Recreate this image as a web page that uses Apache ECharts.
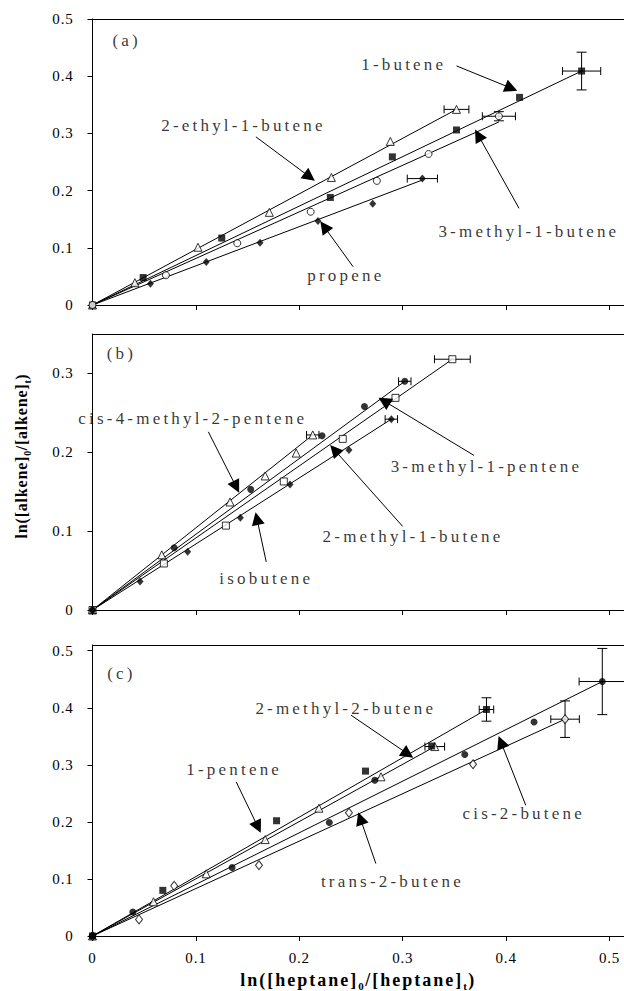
<!DOCTYPE html>
<html>
<head>
<meta charset="utf-8">
<script src="https://cdn.jsdelivr.net/npm/echarts@6/dist/echarts.min.js"></script>
<style>
html, body { margin: 0; padding: 0; background: #fff; }
#main { width: 624px; height: 991px; }
/* the figure text is widely spaced, do it per font size */
#main text[style*="17px"] { letter-spacing: 3.2px; }
#main text[style*="15px"] { letter-spacing: 0.8px; }
#main text[style*="18px"] { letter-spacing: 2px; }
#main text[style*="16px"] { letter-spacing: 0.8px; }
#main text[style*="11px"] { letter-spacing: 1.5px; }
#main text[style*="10px"] { letter-spacing: 0.5px; }
#main text { font-family: "Liberation Serif", "Times New Roman", serif !important; }
</style>
</head>
<body>
<div id="main"></div>
<script>
var FONT = 'Liberation Serif, Times New Roman, serif';

// keep layout measuring in step with the css spacing above
var spacing = { 17: 3.2, 15: 0.8, 18: 2, 16: 0.8, 11: 1.5, 10: 0.5 };
var mctx = document.createElement('canvas').getContext('2d');
if (echarts.setPlatformAPI) {
    echarts.setPlatformAPI({
        measureText: function (text, font) {
            mctx.font = font || '12px serif';
            var m = font && font.match(/(\d+)px/);
            var sp = m ? (spacing[m[1]] || 0) : 0;
            return { width: mctx.measureText(text).width + sp * text.length };
        }
    });
}

// ---- panel (a) ----
var triA = [[0,0],[0.041,0.039],[0.102,0.101],[0.171,0.162],[0.231,0.223],[0.288,0.286],[0.352,0.342]];
var sqA  = [[0,0],[0.049,0.048],[0.125,0.117],[0.230,0.188],[0.290,0.259],[0.352,0.306],[0.413,0.363],[0.473,0.409]];
var cirA = [[0,0],[0.071,0.052],[0.140,0.108],[0.211,0.163],[0.275,0.217],[0.325,0.264],[0.393,0.330]];
var diaA = [[0,0],[0.056,0.037],[0.110,0.075],[0.162,0.109],[0.218,0.147],[0.271,0.177],[0.319,0.221]];
var fitA = [[0.352,0.342],[0.473,0.409],[0.393,0.320],[0.319,0.2185]];
// x, y, xerr, yerr
var errA = [[0.352,0.342,0.012,0],[0.473,0.409,0.0185,0.033],[0.393,0.330,0.016,0.008],[0.319,0.221,0.0146,0]];
var labelsA = [[0.033,0.462,'(a)'],[0.301,0.420,'1-butene'],[0.146,0.313,'2-ethyl-1-butene'],[0.422,0.128,'3-methyl-1-butene'],[0.245,0.051,'propene']];
var arrowsA = [[0.352,0.418,0.405,0.379],[0.158,0.294,0.210,0.224],[0.4125,0.169,0.373,0.297],[0.252,0.067,0.224,0.137]];

// ---- panel (b) ----
var triB = [[0,0],[0.067,0.070],[0.133,0.137],[0.167,0.170],[0.197,0.199],[0.213,0.222]];
var cirB = [[0,0],[0.079,0.079],[0.153,0.153],[0.222,0.221],[0.263,0.258],[0.302,0.290]];
var sqB  = [[0,0],[0.069,0.059],[0.129,0.107],[0.185,0.163],[0.242,0.217],[0.293,0.269],[0.348,0.318]];
var diaB = [[0,0],[0.046,0.036],[0.092,0.074],[0.143,0.117],[0.191,0.159],[0.248,0.203],[0.289,0.242]];
var fitB = [[0.213,0.222],[0.302,0.290],[0.348,0.318],[0.289,0.242]];
var errB = [[0.213,0.222,0.006,0],[0.302,0.290,0.006,0],[0.348,0.318,0.0173,0],[0.289,0.242,0.006,0]];
var labelsB = [[0.028,0.325,'(b)'],[0.097,0.243,'cis-4-methyl-2-pentene'],[0.381,0.182,'3-methyl-1-pentene'],[0.310,0.093,'2-methyl-1-butene'],[0.168,0.040,'isobutene']];
var arrowsB = [[0.112,0.226,0.139,0.156],[0.369,0.196,0.282,0.265],[0.300,0.106,0.234,0.203],[0.168,0.061,0.159,0.116]];

// ---- panel (c) ----
var sqC  = [[0,0],[0.068,0.080],[0.178,0.202],[0.264,0.289],[0.328,0.333],[0.381,0.397]];
var triC = [[0,0],[0.059,0.060],[0.110,0.109],[0.167,0.169],[0.219,0.224],[0.279,0.279],[0.331,0.332]];
var cirC = [[0,0],[0.039,0.042],[0.135,0.120],[0.229,0.199],[0.273,0.273],[0.360,0.318],[0.427,0.375],[0.493,0.446]];
var diaC = [[0,0],[0.045,0.029],[0.079,0.088],[0.161,0.124],[0.248,0.216],[0.368,0.301],[0.457,0.380]];
var fitC = [[0.381,0.397],[0.331,0.332],[0.493,0.446],[0.457,0.380]];
var errC = [[0.381,0.397,0.007,0.0205],[0.331,0.332,0.0095,0],[0.493,0.446,0.0224,0.058],[0.457,0.380,0.0138,0.032]];
var labelsC = [[0.028,0.460,'(c)'],[0.245,0.399,'2-methyl-2-butene'],[0.137,0.291,'1-pentene'],[0.417,0.215,'cis-2-butene'],[0.290,0.095,'trans-2-butene']];
var arrowsC = [[0.250,0.387,0.305,0.319],[0.139,0.270,0.160,0.191],[0.419,0.229,0.395,0.340],[0.274,0.127,0.259,0.206]];

var xMax = 0.514;
var yMaxes = [0.5, 0.35, 0.51];

var markers = {
    openTri: { symbol: 'triangle', symbolSize: 8, itemStyle: { color: '#fff', borderColor: '#000', borderWidth: 1 } },
    fillSq:  { symbol: 'rect', symbolSize: 7, itemStyle: { color: '#000' } },
    openCir: { symbol: 'circle', symbolSize: 7, itemStyle: { color: '#fff', borderColor: '#000', borderWidth: 1 } },
    fillDia: { symbol: 'diamond', symbolSize: [7, 8], itemStyle: { color: '#000' } },
    openSq:  { symbol: 'rect', symbolSize: 7, itemStyle: { color: '#fff', borderColor: '#000', borderWidth: 1 } },
    fillCir: { symbol: 'circle', symbolSize: 7, itemStyle: { color: '#000' } },
    openDia: { symbol: 'diamond', symbolSize: [7, 9], itemStyle: { color: '#fff', borderColor: '#000', borderWidth: 1 } }
};

var panels = [
    { sets: [[triA,'openTri'],[sqA,'fillSq'],[diaA,'fillDia'],[cirA,'openCir']], fits: fitA, errs: errA, labels: labelsA, arrows: arrowsA },
    { sets: [[triB,'openTri'],[sqB,'openSq'],[diaB,'fillDia'],[cirB,'fillCir']], fits: fitB, errs: errB, labels: labelsB, arrows: arrowsB },
    { sets: [[triC,'openTri'],[diaC,'openDia'],[cirC,'fillCir'],[sqC,'fillSq']], fits: fitC, errs: errC, labels: labelsC, arrows: arrowsC }
];

var gridBoxes = [
    { top: 19, height: 286 },
    { top: 334, height: 276 },
    { top: 645, height: 291 }
];

function errRender(params, api) {
    var x = api.value(0), y = api.value(1), ex = api.value(2), ey = api.value(3);
    var c = api.coord([x, y]);
    var kids = [];
    function seg(x1, y1, x2, y2) {
        kids.push({ type: 'line', shape: { x1: x1, y1: y1, x2: x2, y2: y2 }, style: { stroke: '#000', lineWidth: 1 } });
    }
    if (ex > 0) {
        var l = api.coord([x - ex, y])[0], r = api.coord([x + ex, y])[0];
        seg(l, c[1], r, c[1]);
        seg(l, c[1] - 4, l, c[1] + 4);
        seg(r, c[1] - 4, r, c[1] + 4);
    }
    if (ey > 0) {
        var t = api.coord([x, y + ey])[1], b = api.coord([x, y - ey])[1];
        seg(c[0], t, c[0], b);
        seg(c[0] - 5, t, c[0] + 5, t);
        seg(c[0] - 5, b, c[0] + 5, b);
    }
    return { type: 'group', children: kids };
}

var grid = [], xAxis = [], yAxis = [], series = [];
var tickFont = { color: '#000', fontSize: 15, fontFamily: FONT };

panels.forEach(function (p, i) {
    grid.push({ left: 92.5, right: 0, top: gridBoxes[i].top, height: gridBoxes[i].height, outerBoundsMode: 'none' });
    var bottomAxis = {
        type: 'value', gridIndex: i, position: 'bottom', min: 0, max: xMax, interval: 0.1,
        axisLine: { show: true, onZero: false, lineStyle: { color: '#000', width: 1 } },
        axisTick: { show: true, inside: false, length: 5, lineStyle: { color: '#000' } },
        axisLabel: Object.assign({ show: i === 2, margin: 14, showMaxLabel: false }, tickFont),
        splitLine: { show: false }
    };
    if (i === 2) {
        bottomAxis.name = '{n|ln([heptane]}{s|0}{n|/[heptane]}{s|t}{n|)}';
        bottomAxis.nameLocation = 'middle';
        bottomAxis.nameGap = 34;
        bottomAxis.nameTextStyle = {
            color: '#000',
            rich: {
                n: { fontSize: 18, fontWeight: 'bold', fontFamily: FONT, color: '#000', verticalAlign: 'top', lineHeight: 18 },
                s: { fontSize: 11, fontWeight: 'bold', fontFamily: FONT, color: '#000', verticalAlign: 'top', padding: [10, 0, 0, 0] }
            }
        };
    }
    xAxis.push(bottomAxis);
    xAxis.push({
        type: 'value', gridIndex: i, position: 'top', min: 0, max: xMax,
        axisLine: { show: true, onZero: false, lineStyle: { color: '#000', width: 1 } },
        axisTick: { show: false }, axisLabel: { show: false }, splitLine: { show: false }
    });
    yAxis.push({
        type: 'value', gridIndex: i, min: 0, max: yMaxes[i], interval: 0.1,
        axisLine: { show: true, onZero: false, lineStyle: { color: '#000', width: 1 } },
        axisTick: { show: true, inside: false, length: 5, lineStyle: { color: '#000' } },
        axisLabel: Object.assign({ margin: 19, showMaxLabel: i === 0 }, tickFont),
        splitLine: { show: false }
    });

    var xi = i * 2;
    p.fits.forEach(function (end) {
        series.push({
            type: 'line', xAxisIndex: xi, yAxisIndex: i, data: [[0, 0], end],
            symbol: 'none', silent: true, z: 2,
            lineStyle: { color: '#000', width: 1 }
        });
    });
    series.push({
        type: 'custom', xAxisIndex: xi, yAxisIndex: i, data: p.errs,
        renderItem: errRender, silent: true, z: 3
    });
    p.sets.forEach(function (s) {
        var m = markers[s[1]];
        series.push({
            type: 'scatter', xAxisIndex: xi, yAxisIndex: i, data: s[0],
            symbol: m.symbol, symbolSize: m.symbolSize, itemStyle: m.itemStyle,
            silent: true, z: 4
        });
    });
    series.push({
        type: 'scatter', xAxisIndex: xi, yAxisIndex: i, data: p.labels,
        symbolSize: 0, silent: true, z: 5,
        label: {
            show: true, position: 'inside', color: '#000', fontSize: 17, fontFamily: FONT,
            formatter: function (d) { return d.value[2]; }
        },
        markLine: {
            silent: true, symbol: ['none', 'triangle'], symbolSize: 13,
            label: { show: false },
            lineStyle: { color: '#000', width: 1, type: 'solid' },
            emphasis: { disabled: true },
            data: p.arrows.map(function (a) {
                return [{ coord: [a[0], a[1]] }, { coord: [a[2], a[3]] }];
            })
        }
    });
});

var chart = echarts.init(document.getElementById('main'), null, { renderer: 'svg' });
chart.setOption({
    animation: false,
    grid: grid,
    xAxis: xAxis,
    yAxis: yAxis,
    series: series,
    graphic: [{
        type: 'text', x: 23, y: 456, rotation: Math.PI / 2,
        style: {
            text: '{n|ln([alkene]}{s|0}{n|/[alkene]}{s|t}{n|)}',
            align: 'center', verticalAlign: 'middle',
            textAlign: 'center', textVerticalAlign: 'middle',
            fill: '#000',
            rich: {
                n: { fontSize: 16, fontWeight: 'bold', fontFamily: FONT, fill: '#000', verticalAlign: 'top', lineHeight: 16 },
                s: { fontSize: 10, fontWeight: 'bold', fontFamily: FONT, fill: '#000', verticalAlign: 'top', padding: [9, 0, 0, 0] }
            }
        }
    }]
});
</script>
</body>
</html>
